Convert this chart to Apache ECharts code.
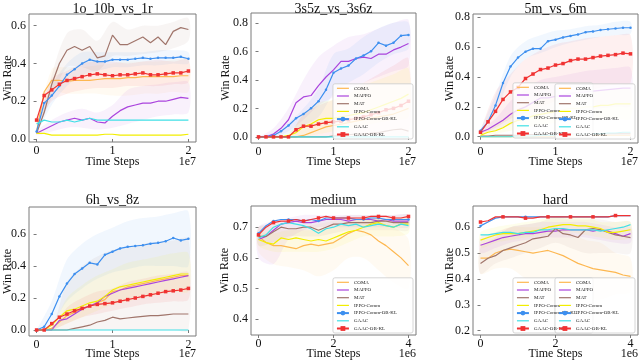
<!DOCTYPE html>
<html><head><meta charset="utf-8">
<script src="https://cdn.jsdelivr.net/npm/echarts@6/dist/echarts.min.js"></script>
<style>html,body{margin:0;padding:0;background:#fff}#c{width:640px;height:361px}</style>
</head><body><div id="c"></div>
<script>
// ---------- categories / labels ----------
const SERIES_NAMES = ['COMA','MAPPO','MAT','IPPO-Comm','IPPO-Comm-OB-KL','GAAC','GAAC-OB-KL'];
const TITLES = ['1o_10b_vs_1r','3s5z_vs_3s6z','5m_vs_6m','6h_vs_8z','medium','hard'];
const X_1E7 = [0,0.1,0.2,0.3,0.4,0.5,0.6,0.7,0.8,0.9,1.0,1.1,1.2,1.3,1.4,1.5,1.6,1.7,1.8,1.9,2.0];
const X_1E6 = [0,0.2,0.4,0.6,0.8,1.0,1.2,1.4,1.6,1.8,2.0,2.2,2.4,2.6,2.8,3.0,3.2,3.4,3.6,3.8,4.0];
const XB_1E7 = [0,0.2,0.4,0.6,0.8,1.0,1.2,1.4,1.6,1.8,2.0];
const XB_1E6 = [0,0.4,0.8,1.2,1.6,2.0,2.4,2.8,3.2,3.6,4.0];
const XTICKS_1E7 = [0,1,2];
const XTICKS_1E6 = [0,2,4];
const YTICKS_A = [0,0.2,0.4,0.6];
const YTICKS_B = [0,0.2,0.4,0.6,0.8];
const YTICKS_MED = [0.4,0.5,0.6,0.7];
const YTICKS_HARD = [0.2,0.3,0.4,0.5,0.6];

// ---------- 1o_10b_vs_1r ----------
const p1_COMA  = [0.04,0.25,0.31,0.31,0.305,0.31,0.31,0.31,0.315,0.32,0.32,0.32,0.325,0.325,0.33,0.33,0.33,0.33,0.33,0.335,0.335];
const p1_MAPPO = [0.03,0.05,0.07,0.09,0.10,0.11,0.10,0.11,0.09,0.085,0.12,0.15,0.17,0.18,0.19,0.19,0.20,0.20,0.21,0.22,0.215];
const p1_MAT   = [0.03,0.14,0.29,0.40,0.47,0.49,0.47,0.49,0.43,0.44,0.55,0.50,0.50,0.52,0.54,0.51,0.54,0.50,0.57,0.59,0.58];
const p1_IPPO  = [0.03,0.03,0.02,0.02,0.02,0.02,0.02,0.02,0.02,0.025,0.025,0.02,0.02,0.02,0.02,0.02,0.02,0.02,0.02,0.02,0.025];
const p1_IPPOKL= [0.04,0.19,0.23,0.28,0.34,0.37,0.40,0.42,0.41,0.41,0.42,0.42,0.42,0.425,0.43,0.425,0.43,0.43,0.43,0.435,0.425];
const p1_GAAC  = [0.08,0.10,0.09,0.09,0.10,0.09,0.10,0.11,0.10,0.10,0.10,0.10,0.10,0.10,0.10,0.10,0.10,0.10,0.10,0.10,0.10];
const p1_GAACKL= [0.10,0.23,0.26,0.29,0.31,0.32,0.33,0.34,0.345,0.34,0.335,0.34,0.34,0.345,0.35,0.34,0.34,0.345,0.35,0.35,0.36];
const p1_band_MAT_lo = [0.03,0.22,0.38,0.38,0.36,0.44,0.44,0.45,0.46,0.48,0.52];
const p1_band_MAT_hi = [0.03,0.34,0.56,0.58,0.52,0.62,0.58,0.60,0.60,0.62,0.64];
const p1_band_KL_lo  = [0.03,0.18,0.28,0.34,0.36,0.38,0.38,0.39,0.39,0.40,0.40];
const p1_band_KL_hi  = [0.05,0.28,0.40,0.46,0.46,0.46,0.46,0.46,0.47,0.47,0.46];
const p1_band_GK_lo  = [0.08,0.20,0.24,0.26,0.27,0.27,0.28,0.28,0.28,0.29,0.30];
const p1_band_GK_hi  = [0.12,0.32,0.36,0.40,0.41,0.41,0.40,0.41,0.42,0.41,0.42];
const p1_band_COMA_lo= [0.03,0.25,0.24,0.24,0.24,0.23,0.23,0.24,0.24,0.25,0.25];
const p1_band_COMA_hi= [0.05,0.37,0.38,0.38,0.39,0.40,0.41,0.41,0.41,0.42,0.42];
const p1_band_MAPPO_lo=[0.02,0.04,0.06,0.06,0.05,0.06,0.08,0.10,0.12,0.13,0.14];
const p1_band_MAPPO_hi=[0.04,0.10,0.14,0.16,0.14,0.18,0.26,0.28,0.29,0.30,0.30];

// ---------- 3s5z_vs_3s6z ----------
const p2_COMA  = [0,0,0,0,0,0,0.01,0.03,0.05,0.07,0.08,0.09,0.10,0.11,0.12,0.13,0.14,0.15,0.16,0.18,0.20];
const p2_MAPPO = [0,0,0.02,0.06,0.12,0.24,0.28,0.29,0.36,0.42,0.47,0.53,0.53,0.55,0.56,0.55,0.58,0.58,0.61,0.63,0.655];
const p2_MAT   = [0,0,0,0,0,0,0,0,0,0,0.005,0.01,0.015,0.02,0.02,0.025,0.03,0.04,0.05,0.055,0.04];
const p2_IPPO  = [0,0,0,0,0.01,0.03,0.07,0.09,0.12,0.13,0.13,0.14,0.15,0.16,0.17,0.19,0.21,0.23,0.25,0.27,0.30];
const p2_IPPOKL= [0,0,0.01,0.04,0.08,0.13,0.16,0.20,0.25,0.33,0.45,0.48,0.50,0.55,0.57,0.60,0.66,0.64,0.66,0.71,0.715];
const p2_GAAC  = [0,0,0,0,0,0,0,0,0,0,0,0,0,0,0,0,0,0,0,0,0];
const p2_GAACKL= [0,0,0,0,0,0.05,0.075,0.075,0.09,0.10,0.105,0.11,0.12,0.13,0.14,0.155,0.17,0.19,0.20,0.22,0.25];
const p2_band_MAPPO_lo=[0,0,0.04,0.12,0.22,0.28,0.34,0.38,0.42,0.46,0.50];
const p2_band_MAPPO_hi=[0,0.06,0.20,0.40,0.56,0.64,0.70,0.72,0.76,0.80,0.82];
const p2_band_KL_lo  = [0,0,0.02,0.08,0.14,0.30,0.38,0.44,0.52,0.58,0.62];
const p2_band_KL_hi  = [0,0.03,0.10,0.20,0.34,0.58,0.62,0.70,0.76,0.80,0.80];
const p2_band_GK_lo  = [0,0,0,0,0,0,0,0,0,0,0];
const p2_band_GK_hi  = [0,0,0.01,0.16,0.22,0.26,0.32,0.38,0.44,0.50,0.55];
const p2_band_IPPO_lo= [0,0,0,0,0.02,0.04,0.06,0.08,0.10,0.12,0.14];
const p2_band_IPPO_hi= [0,0,0.02,0.16,0.24,0.26,0.30,0.36,0.40,0.44,0.48];

// ---------- 5m_vs_6m ----------
const p3_COMA  = [0,0,0,0,0,0,0,0,0,0,0.005,0.005,0.005,0.01,0.01,0.01,0.01,0.01,0.01,0.01,0.01];
const p3_MAPPO = [0.03,0.05,0.08,0.11,0.15,0.18,0.20,0.23,0.26,0.26,0.27,0.28,0.29,0.295,0.30,0.305,0.31,0.315,0.32,0.325,0.325];
const p3_MAT   = [0.005,0.005,0.01,0.01,0.01,0.01,0.015,0.015,0.015,0.02,0.02,0.02,0.02,0.02,0.02,0.02,0.02,0.02,0.02,0.02,0.02];
const p3_IPPO  = [0.01,0.03,0.04,0.06,0.09,0.11,0.12,0.14,0.15,0.16,0.17,0.18,0.19,0.19,0.20,0.20,0.21,0.21,0.22,0.22,0.22];
const p3_IPPOKL= [0.04,0.10,0.21,0.36,0.47,0.53,0.57,0.59,0.59,0.64,0.65,0.665,0.675,0.685,0.70,0.705,0.715,0.72,0.725,0.73,0.73];
const p3_GAAC  = [0,0,0,0,0,0.005,0.005,0.005,0.01,0.01,0.01,0.01,0.015,0.015,0.02,0.02,0.02,0.025,0.025,0.03,0.03];
const p3_GAACKL= [0.03,0.10,0.17,0.25,0.30,0.33,0.39,0.42,0.45,0.46,0.48,0.49,0.51,0.52,0.52,0.53,0.54,0.545,0.55,0.56,0.555];
const p3_band_KL_lo  = [0.03,0.16,0.40,0.52,0.56,0.60,0.63,0.65,0.67,0.68,0.69];
const p3_band_KL_hi  = [0.05,0.28,0.54,0.64,0.68,0.71,0.72,0.74,0.75,0.77,0.77];
const p3_band_GK_lo  = [0.02,0.06,0.12,0.16,0.20,0.24,0.28,0.30,0.33,0.35,0.36];
const p3_band_GK_hi  = [0.04,0.30,0.42,0.52,0.58,0.62,0.64,0.66,0.67,0.68,0.68];
const p3_band_MAPPO_lo=[0.02,0.04,0.08,0.12,0.14,0.16,0.17,0.18,0.19,0.20,0.21];
const p3_band_MAPPO_hi=[0.04,0.12,0.24,0.32,0.38,0.40,0.42,0.44,0.45,0.46,0.46];
const p3_band_IPPO_lo= [0,0.02,0.04,0.06,0.08,0.09,0.10,0.11,0.12,0.12,0.12];
const p3_band_IPPO_hi= [0.02,0.08,0.16,0.22,0.26,0.28,0.30,0.30,0.31,0.32,0.32];

// ---------- 6h_vs_8z ----------
const p4_COMA  = [0,0,0.01,0.05,0.09,0.11,0.13,0.15,0.17,0.19,0.24,0.25,0.27,0.28,0.29,0.30,0.31,0.32,0.33,0.34,0.34];
const p4_MAPPO = [0,0,0,0.06,0.07,0.10,0.13,0.15,0.17,0.21,0.23,0.25,0.26,0.27,0.28,0.29,0.30,0.31,0.32,0.33,0.34];
const p4_MAT   = [0,0,0,0,0,0.01,0.02,0.03,0.05,0.06,0.08,0.07,0.075,0.08,0.085,0.09,0.09,0.095,0.10,0.10,0.10];
const p4_IPPO  = [0,0,0.03,0.08,0.12,0.13,0.15,0.17,0.18,0.21,0.25,0.27,0.28,0.29,0.30,0.31,0.32,0.33,0.34,0.35,0.35];
const p4_IPPOKL= [0,0.02,0.10,0.21,0.29,0.35,0.385,0.42,0.41,0.47,0.49,0.51,0.52,0.525,0.53,0.54,0.545,0.555,0.575,0.56,0.57];
const p4_GAAC  = [0,0,0,0,0,0,0,0,0,0,0,0,0,0,0,0,0,0,0,0,0];
const p4_GAACKL= [0,0,0.04,0.08,0.10,0.12,0.135,0.15,0.16,0.165,0.17,0.18,0.19,0.20,0.21,0.22,0.23,0.24,0.245,0.25,0.26];
const p4_band_KL_lo  = [0,0.04,0.18,0.26,0.32,0.36,0.38,0.40,0.40,0.40,0.40];
const p4_band_KL_hi  = [0,0.18,0.44,0.54,0.60,0.64,0.68,0.70,0.71,0.73,0.74];
const p4_band_MAT_lo = [0,0,0,0,0,0,0,0,0,0,0];
const p4_band_MAT_hi = [0,0.02,0.30,0.40,0.46,0.50,0.52,0.54,0.55,0.56,0.57];
const p4_band_IPPO_lo= [0,0,0.04,0.08,0.12,0.16,0.18,0.20,0.22,0.24,0.24];
const p4_band_IPPO_hi= [0,0.02,0.20,0.28,0.34,0.38,0.42,0.44,0.46,0.48,0.48];
const p4_band_GK_lo  = [0,0,0.04,0.08,0.10,0.12,0.14,0.16,0.17,0.18,0.19];
const p4_band_GK_hi  = [0,0,0.14,0.20,0.24,0.26,0.30,0.32,0.34,0.35,0.36];

// ---------- medium ----------
const p5_COMA  = [0.67,0.65,0.64,0.64,0.635,0.63,0.64,0.645,0.64,0.645,0.65,0.665,0.68,0.69,0.685,0.675,0.655,0.64,0.62,0.60,0.575];
const p5_MAPPO = [0.66,0.67,0.69,0.71,0.715,0.72,0.715,0.715,0.72,0.725,0.725,0.725,0.72,0.725,0.725,0.725,0.72,0.725,0.72,0.72,0.72];
const p5_MAT   = [0.67,0.67,0.685,0.70,0.695,0.695,0.70,0.70,0.69,0.70,0.71,0.71,0.715,0.715,0.715,0.715,0.72,0.72,0.715,0.715,0.715];
const p5_IPPO  = [0.66,0.65,0.645,0.665,0.66,0.665,0.66,0.655,0.66,0.655,0.665,0.675,0.685,0.69,0.70,0.71,0.715,0.705,0.70,0.71,0.71];
const p5_IPPOKL= [0.68,0.705,0.72,0.725,0.725,0.725,0.72,0.725,0.72,0.73,0.73,0.73,0.73,0.725,0.725,0.73,0.73,0.725,0.725,0.725,0.725];
const p5_GAAC  = [0.665,0.675,0.70,0.71,0.715,0.71,0.705,0.695,0.68,0.695,0.70,0.71,0.705,0.71,0.70,0.705,0.71,0.705,0.70,0.71,0.705];
const p5_GAACKL= [0.675,0.70,0.715,0.72,0.72,0.725,0.72,0.725,0.73,0.735,0.73,0.73,0.73,0.73,0.73,0.735,0.735,0.735,0.73,0.73,0.735];
const p5_band_COMA_lo = [0.62,0.58,0.57,0.56,0.54,0.56,0.60,0.60,0.56,0.52,0.50];
const p5_band_COMA_hi = [0.70,0.70,0.69,0.70,0.71,0.72,0.73,0.73,0.73,0.70,0.66];
const p5_band_MAPPO_lo= [0.60,0.58,0.66,0.69,0.70,0.70,0.70,0.70,0.70,0.70,0.70];
const p5_band_MAPPO_hi= [0.70,0.72,0.73,0.74,0.74,0.74,0.74,0.74,0.74,0.74,0.74];
const p5_band_IPPO_lo = [0.64,0.62,0.62,0.62,0.62,0.63,0.65,0.67,0.67,0.67,0.68];
const p5_band_IPPO_hi = [0.68,0.68,0.69,0.69,0.69,0.70,0.72,0.73,0.73,0.73,0.73];
const p5_band_MAT_lo  = [0.64,0.65,0.67,0.67,0.67,0.68,0.69,0.69,0.69,0.69,0.69];
const p5_band_MAT_hi  = [0.70,0.71,0.72,0.72,0.72,0.73,0.74,0.74,0.74,0.74,0.74];

// ---------- hard ----------
const p6_COMA  = [0.48,0.48,0.50,0.51,0.515,0.51,0.505,0.50,0.505,0.51,0.50,0.49,0.475,0.46,0.45,0.44,0.435,0.43,0.425,0.415,0.41];
const p6_MAPPO = [0.53,0.54,0.55,0.56,0.565,0.57,0.575,0.575,0.58,0.585,0.585,0.59,0.59,0.59,0.59,0.585,0.59,0.585,0.575,0.565,0.575];
const p6_MAT   = [0.46,0.48,0.49,0.51,0.52,0.53,0.54,0.555,0.56,0.565,0.595,0.575,0.57,0.56,0.59,0.595,0.59,0.58,0.57,0.565,0.56];
const p6_IPPO  = [0.55,0.56,0.57,0.575,0.575,0.575,0.58,0.585,0.59,0.60,0.605,0.61,0.61,0.605,0.605,0.60,0.595,0.58,0.58,0.585,0.59];
const p6_IPPOKL= [0.605,0.62,0.635,0.64,0.64,0.64,0.64,0.64,0.64,0.64,0.64,0.64,0.64,0.64,0.64,0.64,0.64,0.64,0.645,0.645,0.645];
const p6_GAAC  = [0.57,0.57,0.575,0.58,0.58,0.575,0.58,0.58,0.59,0.59,0.595,0.595,0.59,0.59,0.59,0.59,0.585,0.59,0.595,0.60,0.61];
const p6_GAACKL= [0.62,0.625,0.64,0.64,0.64,0.64,0.635,0.635,0.64,0.64,0.64,0.64,0.64,0.64,0.64,0.64,0.64,0.64,0.645,0.645,0.645];
const p6_band_COMA_lo = [0.42,0.44,0.44,0.40,0.36,0.30,0.30,0.32,0.32,0.34,0.35];
const p6_band_COMA_hi = [0.54,0.58,0.60,0.60,0.60,0.60,0.58,0.55,0.54,0.50,0.48];
const p6_band_MAT_lo  = [0.42,0.46,0.48,0.50,0.52,0.54,0.52,0.50,0.50,0.50,0.50];
const p6_band_MAT_hi  = [0.52,0.56,0.60,0.61,0.62,0.64,0.63,0.63,0.63,0.62,0.62];
const p6_band_MAPPO_lo= [0.50,0.52,0.54,0.55,0.56,0.56,0.56,0.56,0.55,0.54,0.54];
const p6_band_MAPPO_hi= [0.56,0.58,0.60,0.61,0.62,0.62,0.62,0.62,0.61,0.60,0.60];
const p6_band_IPPO_lo = [0.52,0.54,0.55,0.56,0.57,0.58,0.58,0.57,0.56,0.55,0.56];
const p6_band_IPPO_hi = [0.58,0.60,0.61,0.62,0.63,0.64,0.64,0.64,0.62,0.62,0.62];

// ---------- styling / layout ----------
const COLORS = {
  'COMA':'#FDB750','MAPPO':'#AA44DD','MAT':'#A0756B','IPPO-Comm':'#F2EE00',
  'IPPO-Comm-OB-KL':'#3D8FEF','GAAC':'#40E0E6','GAAC-OB-KL':'#F03232'
};
const MARKERS = {'IPPO-Comm-OB-KL':'circle','GAAC-OB-KL':'rect'};
const BAND_ALPHA = 0.075;
const FONT = '"Liberation Serif", "DejaVu Serif", serif';
function rgba(hex,a){const n=parseInt(hex.slice(1),16);return 'rgba('+(n>>16)+','+((n>>8)&255)+','+(n&255)+','+a+')';}

const panels = [
  { grid:{left:29,top:14,width:167,height:128}, x:X_1E7, xb:XB_1E7, xr:[-0.1,2.1], yr:[-0.016,0.662], xt:XTICKS_1E7, yt:YTICKS_A, exp:'1e7', every:1,
    lines:[p1_COMA,p1_MAPPO,p1_MAT,p1_IPPO,p1_IPPOKL,p1_GAAC,p1_GAACKL],
    bands:[['COMA',p1_band_COMA_lo,p1_band_COMA_hi],['MAPPO',p1_band_MAPPO_lo,p1_band_MAPPO_hi],['MAT',p1_band_MAT_lo,p1_band_MAT_hi],['IPPO-Comm-OB-KL',p1_band_KL_lo,p1_band_KL_hi],['GAAC-OB-KL',p1_band_GK_lo,p1_band_GK_hi]],
    legend:{right:47,bottom:223}, wr:8, titleY:9, tsY:162 },
  { grid:{left:251,top:13,width:165,height:130}, x:X_1E7, xb:XB_1E7, xr:[-0.1,2.1], yr:[-0.043,0.869], xt:XTICKS_1E7, yt:YTICKS_B, exp:'1e7', every:1,
    lines:[p2_COMA,p2_MAPPO,p2_MAT,p2_IPPO,p2_IPPOKL,p2_GAAC,p2_GAACKL],
    bands:[['MAPPO',p2_band_MAPPO_lo,p2_band_MAPPO_hi],['IPPO-Comm-OB-KL',p2_band_KL_lo,p2_band_KL_hi],['GAAC-OB-KL',p2_band_GK_lo,p2_band_GK_hi],['IPPO-Comm',p2_band_IPPO_lo,p2_band_IPPO_hi]],
    legend:{right:227,bottom:222}, wr:226, titleY:9, tsY:162 },
  { grid:{left:473,top:14,width:165,height:129}, x:X_1E7, xb:XB_1E7, xr:[-0.1,2.1], yr:[-0.042,0.822], xt:XTICKS_1E7, yt:YTICKS_B, exp:'1e7', every:1,
    lines:[p3_COMA,p3_MAPPO,p3_MAT,p3_IPPO,p3_IPPOKL,p3_GAAC,p3_GAACKL],
    bands:[['MAPPO',p3_band_MAPPO_lo,p3_band_MAPPO_hi],['IPPO-Comm',p3_band_IPPO_lo,p3_band_IPPO_hi],['IPPO-Comm-OB-KL',p3_band_KL_lo,p3_band_KL_hi],['GAAC-OB-KL',p3_band_GK_lo,p3_band_GK_hi]],
    legend:{right:5,bottom:222}, wr:450, titleY:9, tsY:162 },
  { grid:{left:29,top:207,width:167,height:129}, x:X_1E7, xb:XB_1E7, xr:[-0.1,2.1], yr:[-0.0375,0.769], xt:XTICKS_1E7, yt:YTICKS_A, exp:'1e7', every:1,
    lines:[p4_COMA,p4_MAPPO,p4_MAT,p4_IPPO,p4_IPPOKL,p4_GAAC,p4_GAACKL],
    bands:[['MAT',p4_band_MAT_lo,p4_band_MAT_hi],['IPPO-Comm-OB-KL',p4_band_KL_lo,p4_band_KL_hi],['IPPO-Comm',p4_band_IPPO_lo,p4_band_IPPO_hi],['GAAC-OB-KL',p4_band_GK_lo,p4_band_GK_hi]],
    legend:{right:47,bottom:28}, wr:8, titleY:200, tsY:354 },
  { grid:{left:251,top:206,width:165,height:129}, x:X_1E6, xb:XB_1E6, xr:[-0.2,4.2], yr:[0.349,0.769], xt:XTICKS_1E6, yt:YTICKS_MED, exp:'1e6', every:2,
    lines:[p5_COMA,p5_MAPPO,p5_MAT,p5_IPPO,p5_IPPOKL,p5_GAAC,p5_GAACKL],
    bands:[['COMA',p5_band_COMA_lo,p5_band_COMA_hi],['MAPPO',p5_band_MAPPO_lo,p5_band_MAPPO_hi],['IPPO-Comm',p5_band_IPPO_lo,p5_band_IPPO_hi],['MAT',p5_band_MAT_lo,p5_band_MAT_hi]],
    legend:{right:227,bottom:28}, wr:225, titleY:200, tsY:354 },
  { grid:{left:473,top:206,width:165,height:129}, x:X_1E6, xb:XB_1E6, xr:[-0.2,4.2], yr:[0.183,0.682], xt:XTICKS_1E6, yt:YTICKS_HARD, exp:'1e6', every:3,
    lines:[p6_COMA,p6_MAPPO,p6_MAT,p6_IPPO,p6_IPPOKL,p6_GAAC,p6_GAACKL],
    bands:[['COMA',p6_band_COMA_lo,p6_band_COMA_hi],['MAT',p6_band_MAT_lo,p6_band_MAT_hi],['MAPPO',p6_band_MAPPO_lo,p6_band_MAPPO_hi],['IPPO-Comm',p6_band_IPPO_lo,p6_band_IPPO_hi]],
    legend:{right:5,bottom:28}, wr:450, titleY:200, tsY:354 }
];

const grids=[], xAxes=[], yAxes=[], series=[], legends=[], graphics=[];
const FRAME = '#7a7a7a';
const LINE_ICON = 'path://M0,0H24V2.4H0Z';

panels.forEach((p,i)=>{
  grids.push(Object.assign({show:true, borderColor:FRAME, borderWidth:1, backgroundColor:'transparent', containLabel:false}, p.grid));
  xAxes.push({gridIndex:i, type:'value', min:p.xr[0], max:p.xr[1],
    axisLine:{show:false}, splitLine:{show:false},
    axisTick:{show:true, length:3, customValues:p.xt, lineStyle:{color:FRAME}},
    axisLabel:{customValues:p.xt, margin:3, fontFamily:FONT, fontSize:12, color:'#111', formatter:v=>String(Math.round(v))}});
  yAxes.push({gridIndex:i, type:'value', min:p.yr[0], max:p.yr[1],
    axisLine:{show:false}, splitLine:{show:false},
    axisTick:{show:true, length:3, customValues:p.yt, lineStyle:{color:FRAME}},
    axisLabel:{customValues:p.yt, margin:3, fontFamily:FONT, fontSize:12, color:'#111', formatter:v=>v.toFixed(1)}});

  // shaded bands: polygons between lower and upper arrays, positioned with the axis scales
  p.bands.forEach((b)=>{
    const [name,lo,hi]=b;
    series.push({type:'custom', name:name+' band', coordinateSystem:'cartesian2d', xAxisIndex:i, yAxisIndex:i, silent:true, z:1,
      clip:true,
      data:[[p.xb[0], lo[0]]],
      renderItem:(params, api)=>{
        const pts=[];
        for(let j=0;j<p.xb.length;j++) pts.push(api.coord([p.xb[j],hi[j]]));
        for(let j=p.xb.length-1;j>=0;j--) pts.push(api.coord([p.xb[j],lo[j]]));
        return {type:'polygon', shape:{points:pts, smooth:0.3}, style:{fill:rgba(COLORS[name],BAND_ALPHA), stroke:null}};
      }});
  });

  // lines
  SERIES_NAMES.forEach((name,s)=>{
    const arr=p.lines[s];
    const marker = MARKERS[name] || 'none';
    const size = name==='GAAC-OB-KL' ? 3.5 : 2.5;
    series.push({type:'line', name, xAxisIndex:i, yAxisIndex:i, z:2, silent:true,
      symbol:marker, symbolSize:size, showSymbol:marker!=='none', showAllSymbol:true,
      lineStyle:{color:COLORS[name], width:1.2}, itemStyle:{color:COLORS[name]},
      data:p.x.map((x,j)=>{
        const it={value:[x,arr[j]]};
        if(marker!=='none' && j%p.every!==0) it.symbol='none';
        return it;
      })});
  });

  legends.push({
    data:SERIES_NAMES.map(n=> MARKERS[n] ? {name:n} : {name:n, icon:LINE_ICON}),
    orient:'vertical', right:p.legend.right, bottom:p.legend.bottom,
    itemWidth:12, itemHeight:6, itemGap:2.7, selectedMode:false,
    padding:[2,16,2,3], backgroundColor:'rgba(255,255,255,0.8)', borderColor:'#cccccc', borderWidth:0.8, borderRadius:2,
    textStyle:{fontFamily:FONT, fontSize:5, color:'#222'}});

  const cx = p.grid.left + p.grid.width/2;
  graphics.push({type:'text', x:cx, y:p.titleY, style:{text:TITLES[i], font:'14px '+FONT, fill:'#111', textAlign:'center', textVerticalAlign:'middle'}});
  graphics.push({type:'text', x:cx, y:p.tsY, style:{text:'Time Steps', font:'12px '+FONT, fill:'#111', textAlign:'center', textVerticalAlign:'middle'}});
  graphics.push({type:'text', x:p.grid.left+p.grid.width, y:p.tsY, style:{text:p.exp, font:'12px '+FONT, fill:'#111', textAlign:'right', textVerticalAlign:'middle'}});
  graphics.push({type:'text', x:p.wr, y:p.grid.top+p.grid.height/2, rotation:Math.PI/2,
    style:{text:'Win Rate', font:'12px '+FONT, fill:'#111', textAlign:'center', textVerticalAlign:'middle'}});
});

const chart = echarts.init(document.getElementById('c'), null, {renderer:'canvas'});
chart.setOption({
  animation:false, backgroundColor:'#ffffff',
  grid:grids, xAxis:xAxes, yAxis:yAxes, series, legend:legends, graphic:graphics
});
</script></body></html>
